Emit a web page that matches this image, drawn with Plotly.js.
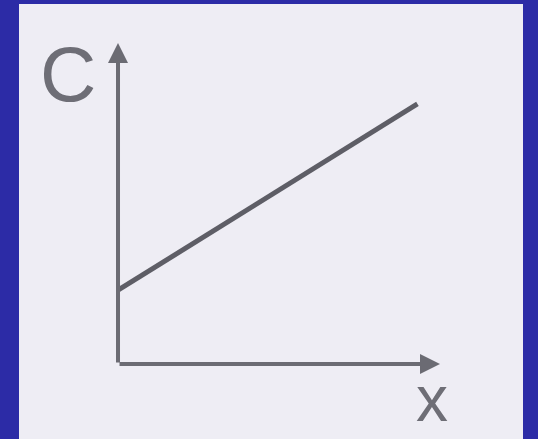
<!DOCTYPE html>
<html>
<head>
<meta charset="utf-8">
<script src="https://cdn.plot.ly/plotly-3.0.1.min.js"></script>
<style>
  html, body { margin: 0; padding: 0; background: #2c2ba6; }
  #chart { width: 538px; height: 439px; }
</style>
</head>
<body>
<div id="chart"></div>
<script>
// Linear relation C = C0 + k·x, drawn from the intercept on the C axis
const xValues = [0, 0.93];
const cValues = [0.23, 0.81];

// Axis names
const xLabel = 'x';
const cLabel = 'C';

const axisColor = '#6b6b73';
const lineColor = '#5e5e66';
const textColor = '#6e6e76';

const traces = [{
  x: xValues,
  y: cValues,
  type: 'scatter',
  mode: 'lines',
  line: { color: lineColor, width: 5 },
  hoverinfo: 'skip'
}];

// Arrowed axes drawn from the origin
function axisArrow(x, y) {
  return {
    x: x, y: y, ax: 0, ay: 0,
    xref: 'x', yref: 'y', axref: 'x', ayref: 'y',
    text: '', showarrow: true,
    arrowhead: 2, arrowsize: 1, arrowwidth: 4,
    arrowcolor: axisColor, standoff: 0, startstandoff: 0
  };
}

const layout = {
  width: 538,
  height: 439,
  margin: { l: 19, r: 15, t: 4, b: 0, pad: 0 },
  paper_bgcolor: '#2c2ba6',
  plot_bgcolor: '#eeedf4',
  showlegend: false,
  xaxis: { range: [-0.3075, 1.2578], visible: false, fixedrange: true },
  yaxis: { range: [-0.2336, 1.1215], visible: false, fixedrange: true },
  annotations: [
    axisArrow(1.0, 0),
    axisArrow(0, 1.0),
    {
      x: -0.155, y: 0.903, xref: 'x', yref: 'y',
      text: cLabel, showarrow: false,
      font: { family: 'Liberation Sans, Arial, sans-serif', size: 78, color: textColor }
    },
    {
      x: 0.975, y: -0.11, xref: 'x', yref: 'y',
      text: xLabel, showarrow: false,
      font: { family: 'Liberation Sans, Arial, sans-serif', size: 64, color: textColor }
    }
  ]
};

Plotly.newPlot('chart', traces, layout, { staticPlot: true, displayModeBar: false });
</script>
</body>
</html>
